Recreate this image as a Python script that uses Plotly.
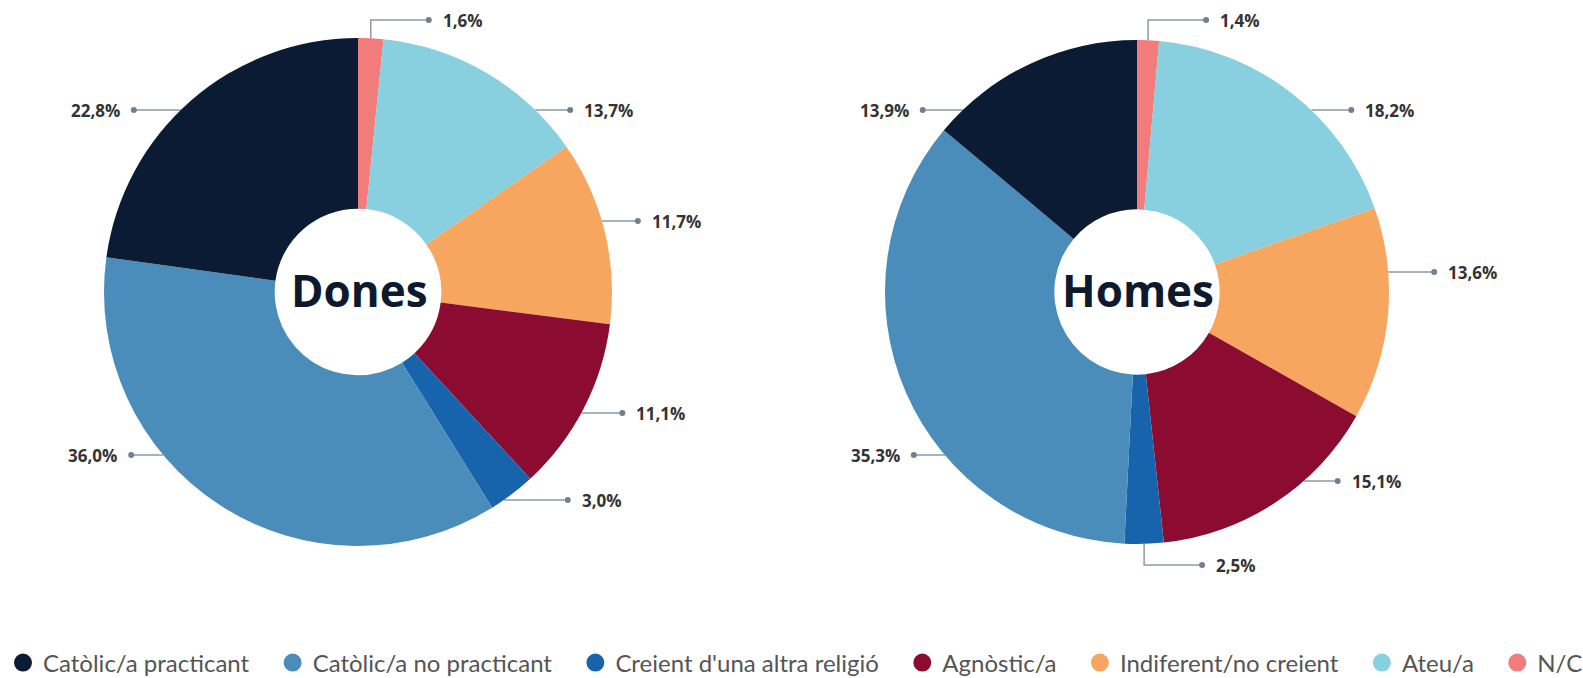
import math
import plotly.graph_objects as go

# ---------------- data ----------------
categories = ["Catòlic/a practicant", "Catòlic/a no practicant", "Creient d'una altra religió",
              "Agnòstic/a", "Indiferent/no creient", "Ateu/a", "N/C"]
dones_values = [22.8, 36.0, 3.0, 11.1, 11.7, 13.7, 1.6]
homes_values = [13.9, 35.3, 2.5, 15.1, 13.6, 18.2, 1.4]
pie_titles = ["Dones", "Homes"]

# ---------------- styles / layout ----------------
colors = ["#0b1b33", "#4a8cba", "#1764ad", "#8c0b30", "#f6a65e", "#88d0e0", "#f27b7b"]
W, H = 1700, 678
# label placement: vertical position and connector length (None = elbow connector)
pie_geom = [
    dict(cx=358, cy=292, r=254, label_y=[110, 455, 500, 413, 221, 110, 20],
         conn=[47, 32, 64, 41, 36, 35, None]),
    dict(cx=1137, cy=292, r=252, label_y=[110, 455, 565, 481, 272, 110, 20],
         conn=[40, 31, None, 34, 46, 40, None]),
]
ELBOW_LEN = 58
TEXT_GAP = 12
LINE_COLOR = "#8e9aa4"
DOT_COLOR = "#6e8193"
TEXT_COLOR = "#333333"
FONT = "Lato"
BOLD_FONT = "Open Sans"
LEGEND_PAD = "\u00a0" * 3

fig = go.Figure()

annotations = []
line_x, line_y, dot_x, dot_y = [], [], [], []

for values, title, g in zip([dones_values, homes_values], pie_titles, pie_geom):
    cx, cy, r = g["cx"], g["cy"], g["r"]
    # slices run clockwise from 12 o'clock in reverse legend order
    fig.add_trace(go.Pie(
        labels=categories[::-1], values=values[::-1], sort=False, direction="clockwise",
        rotation=0, hole=0.328, textinfo="none", hoverinfo="label+percent",
        marker=dict(colors=colors[::-1], line=dict(width=0)), showlegend=False,
        domain=dict(x=[(cx - r) / W, (cx + r) / W], y=[1 - (cy + r) / H, 1 - (cy - r) / H]),
    ))
    annotations.append(dict(
        x=cx + 1, y=cy - 2, xref="x", yref="y", text="<b>%s</b>" % title, showarrow=False,
        font=dict(family=BOLD_FONT, size=44, color="#0d1a2e", weight=800),
        xanchor="center", yanchor="middle",
    ))
    total = sum(values)
    cum = 0.0
    for v, ly, cl in zip(values, g["label_y"], g["conn"]):
        mid = 360.0 * (1 - (cum + v / 2) / total)  # clockwise from top
        cum += v
        th = math.radians(mid)
        right = math.sin(th) > 0
        sgn = 1 if right else -1
        if cl is None:
            sx = cx + r * math.sin(th)
            sy = cy - r * math.cos(th)
            dx_ = sx + ELBOW_LEN
            line_x += [sx, sx, dx_, None]
            line_y += [sy, ly, ly, None]
            sgn = 1
            right = True
        else:
            dy = ly - cy
            sx = cx + sgn * math.sqrt(max(r * r - dy * dy, 0))
            dx_ = sx + sgn * cl
            line_x += [sx, dx_, None]
            line_y += [ly, ly, None]
        dot_x.append(dx_)
        dot_y.append(ly)
        txt = ("%.1f" % v).replace(".", ",") + "%"
        annotations.append(dict(
            x=dx_ + sgn * TEXT_GAP, y=ly, xref="x", yref="y", text="<b>%s</b>" % txt, showarrow=False,
            font=dict(family=BOLD_FONT, size=17, color=TEXT_COLOR),
            xanchor="left" if right else "right", yanchor="middle",
        ))

fig.add_trace(go.Scatter(x=line_x, y=line_y, mode="lines", line=dict(color=LINE_COLOR, width=1.5),
                         hoverinfo="skip", showlegend=False))
fig.add_trace(go.Scatter(x=dot_x, y=dot_y, mode="markers", marker=dict(color=DOT_COLOR, size=6),
                         hoverinfo="skip", showlegend=False))

# legend entries
for name, c in zip(categories, colors):
    fig.add_trace(go.Scatter(x=[None], y=[None], mode="markers", name=name + LEGEND_PAD,
                             marker=dict(symbol="circle", size=16, color=c, line=dict(color=c, width=2))))

fig.update_layout(
    width=W, height=H,
    margin=dict(l=0, r=0, t=0, b=0, autoexpand=False),
    paper_bgcolor="white", plot_bgcolor="white",
    xaxis=dict(range=[0, W], visible=False, fixedrange=True),
    yaxis=dict(range=[H, 0], visible=False, fixedrange=True),
    annotations=annotations,
    legend=dict(orientation="h", x=3 / W, xanchor="left", y=1 - 663 / H, yanchor="middle",
                font=dict(family=FONT, size=24, color="#555555"), itemsizing="trace",
                bgcolor="rgba(0,0,0,0)", tracegroupgap=0),
)

fig.write_html("out.html", post_script=(
    "document.body.style.margin='0';document.body.style.overflow='hidden';"
    "document.documentElement.style.overflow='hidden';"))
